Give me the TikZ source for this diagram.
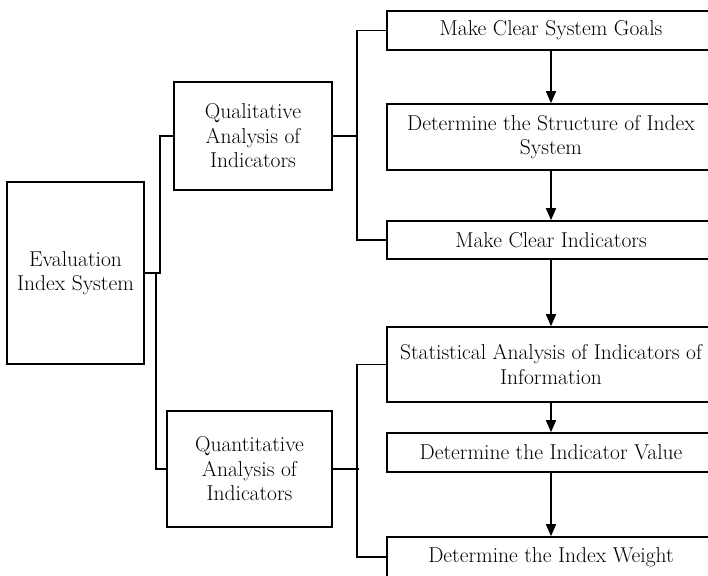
\documentclass[tikz,border=0pt]{standalone}
\usetikzlibrary{arrows.meta}
\begin{document}
\begin{tikzpicture}[x=1pt,y=1pt,
  box/.style={draw, line width=1.6pt, align=center, inner sep=1pt,
    font=\fontsize{21.5}{24.5}\selectfont},
  step box/.style={box, minimum width=328},
  link/.style={line width=1.6pt},
  flow/.style={line width=1.6pt, -{Triangle[length=12pt,width=10pt]}}]
\useasboundingbox (0,0) rectangle (708,575);
\clip (0,0) rectangle (708,575);

% main node and the two analysis branches
\node[box, minimum width=137, minimum height=182] (eval) at (75.5,302) {Evaluation\\Index System};
\node[box, minimum width=158, minimum height=108] (qual) at (253,439) {Qualitative\\Analysis of\\Indicators};
\node[box, minimum width=165, minimum height=116] (quan) at (249.5,106) {Quantitative\\Analysis of\\Indicators};

% step boxes on the right
\node[step box, minimum height=39] (b1) at (551,544.5) {Make Clear System Goals};
\node[step box, minimum height=66] (b2) at (551,438) {Determine the Structure of Index\\System};
\node[step box, minimum height=38] (b3) at (551,335) {Make Clear Indicators};
\node[step box, minimum height=75] (b4) at (551,210.5) {Statistical Analysis of Indicators of\\Information};
\node[step box, minimum height=39] (b5) at (551,122.5) {Determine the Indicator Value};
\node[step box, minimum height=40] (b6) at (551,18) {Determine the Index Weight};

% bracket from the main node
\draw[link] (eval.east) -- ([xshift=15]eval.east) |- (qual.west);
\draw[link] ([xshift=11]eval.east) |- (quan.west);

% bracket from the qualitative branch
\coordinate (bq) at (357,439);
\draw[link] (qual.east) -- (bq);
\draw[link] (b1.west) -| (bq);
\draw[link] (b3.west) -| (bq);

% bracket from the quantitative branch
\coordinate (bn) at (357,106);
\draw[link] (quan.east) -- ([xshift=2]bn);
\draw[link] (b4.west) -| (bn);
\draw[link] (b6.west) -| (bn);

% flow between steps
\draw[flow] (b1) -- (b2);
\draw[flow] (b2) -- (b3);
\draw[flow] (b3) -- (b4);
\draw[flow] (b4) -- (b5);
\draw[flow] (b5) -- (b6);
\end{tikzpicture}
\end{document}
